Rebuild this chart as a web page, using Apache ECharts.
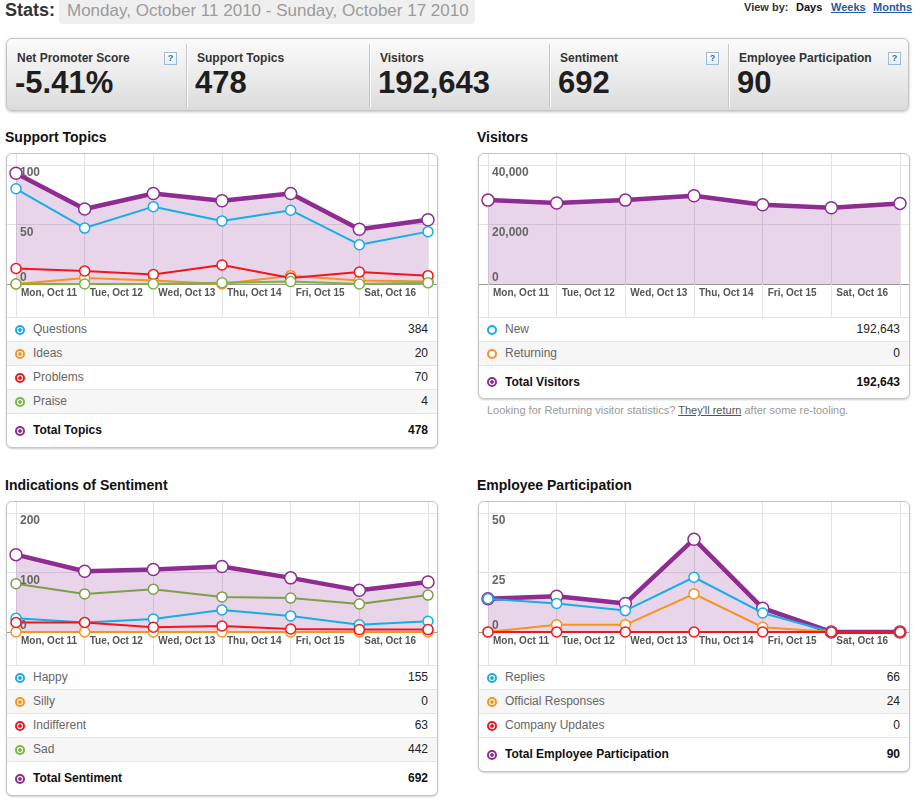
<!DOCTYPE html>
<html>
<head>
<meta charset="utf-8">
<title>Stats</title>
<script src="https://cdn.jsdelivr.net/npm/echarts@6.0.0/dist/echarts.min.js"></script>
<style>
body{margin:0;background:#fff;font-family:Arial,"Liberation Sans",Helvetica,sans-serif;width:922px;height:804px;position:relative;overflow:hidden}
#statsLabel{position:absolute;left:5px;top:-1px;font-size:18px;font-weight:bold;color:#333;line-height:22px}
#range{position:absolute;left:59px;top:-4px;width:416px;height:28px;background:#efefef;border-radius:4px;color:#9b9b9b;font-size:17px;line-height:30px;padding-left:8px;box-sizing:border-box;white-space:nowrap}
.vb{position:absolute;top:1px;font-size:11px;font-weight:bold;color:#333;line-height:13px}
.vb a{color:#1f5d9c;text-decoration:underline}
#statsBar{position:absolute;left:6px;top:38px;width:903px;height:73px;border:1px solid #c4c4c4;border-radius:6px;background:linear-gradient(#fbfbfb,#dcdcdc);box-shadow:0 1px 3px rgba(0,0,0,.25);box-sizing:border-box}
.cell{position:absolute;top:0;height:71px}
.cell .lbl{position:absolute;left:10px;top:12px;font-size:12px;font-weight:bold;color:#333;white-space:nowrap}
.cell .val{position:absolute;left:8px;top:27px;font-size:31px;font-weight:bold;color:#1e1e1e;line-height:34px;white-space:nowrap}
.divider{position:absolute;top:5px;height:63px;width:0;border-left:1px solid #c6c6c6;box-shadow:1px 0 0 #fff}
.help{position:absolute;top:13px;width:11px;height:11px;border:1px solid #9dbbd8;background:linear-gradient(#fff,#e6eef6);color:#2a6db0;font-size:9px;font-weight:bold;line-height:11px;text-align:center}
.title{position:absolute;font-size:14px;font-weight:bold;color:#111;line-height:16px}
.panel{position:absolute;width:432px;border:1px solid #c6c6c6;border-radius:6px;box-shadow:0 1px 2px rgba(0,0,0,.2);background:#fff;box-sizing:border-box;overflow:hidden}
.chart{width:430px;height:163px}
.row{position:relative;height:24px;border-top:1px solid #e3e3e3;box-sizing:border-box;font-size:12px;line-height:23px;color:#666}
.row.alt{background:#f6f6f6}
.row.total{font-weight:bold;color:#111}
.row .name{position:absolute;left:26px;top:0}
.row .num{position:absolute;right:9px;top:0;color:#222}
.row.total .num{color:#111}
.dot{position:absolute;left:8px;top:50%;margin-top:-5px;width:6px;height:6px;border-radius:50%;border:2px solid;background:#fff}
.note{position:absolute;left:487px;top:404px;font-size:11px;color:#9a9a9a;white-space:nowrap}
.note span{color:#555;text-decoration:underline}
</style>
</head>
<body>

<div id="statsLabel">Stats:</div>
<div id="range">Monday, October 11 2010 - Sunday, October 17 2010</div>
<div class="vb" style="left:744px">View by:</div>
<div class="vb" style="left:796px;color:#111">Days</div>
<div class="vb" style="left:831px"><a>Weeks</a></div>
<div class="vb" style="left:873px"><a>Months</a></div>

<div id="statsBar">
    <div class="cell" style="left:0;width:180px"><div class="lbl">Net Promoter Score</div><div class="val" id="npsVal"></div></div>
    <div class="help" style="left:157px">?</div>
    <div class="divider" style="left:179px"></div>
    <div class="cell" style="left:180px;width:183px"><div class="lbl">Support Topics</div><div class="val" id="topicsVal"></div></div>
    <div class="divider" style="left:362px"></div>
    <div class="cell" style="left:363px;width:180px"><div class="lbl">Visitors</div><div class="val" id="visitorsVal"></div></div>
    <div class="divider" style="left:542px"></div>
    <div class="cell" style="left:543px;width:179px"><div class="lbl">Sentiment</div><div class="val" id="sentVal"></div></div>
    <div class="help" style="left:699px">?</div>
    <div class="divider" style="left:721px"></div>
    <div class="cell" style="left:722px;width:179px"><div class="lbl">Employee Participation</div><div class="val" id="empVal"></div></div>
    <div class="help" style="left:881px">?</div>
</div>

<div class="title" style="left:5px;top:129px">Support Topics</div>
<div class="panel" style="left:6px;top:153px;height:295px">
    <div class="chart" id="topicsChart"></div>
    <div id="topicsRows"></div>
</div>

<div class="title" style="left:477px;top:129px">Visitors</div>
<div class="panel" style="left:478px;top:153px;height:246px">
    <div class="chart" id="visitorsChart"></div>
    <div id="visitorsRows"></div>
</div>
<div class="note">Looking for Returning visitor statistics? <span>They'll return</span> after some re-tooling.</div>

<div class="title" style="left:5px;top:477px">Indications of Sentiment</div>
<div class="panel" style="left:6px;top:501px;height:295px">
    <div class="chart" id="sentChart"></div>
    <div id="sentRows"></div>
</div>

<div class="title" style="left:477px;top:477px">Employee Participation</div>
<div class="panel" style="left:478px;top:501px;height:271px">
    <div class="chart" id="empChart"></div>
    <div id="empRows"></div>
</div>

<script>
var days = ['Mon, Oct 11', 'Tue, Oct 12', 'Wed, Oct 13', 'Thu, Oct 14', 'Fri, Oct 15', 'Sat, Oct 16', 'Sun, Oct 17'];

var netPromoter = '-5.41%';

var topicsQuestions = [80, 47, 65, 53, 62, 33, 44];
var topicsIdeas = [0, 5, 3, 0, 7, 3, 2];
var topicsProblems = [13, 11, 8, 16, 5, 10, 7];
var topicsPraise = [0, 0, 0, 1, 2, 0, 1];
var topicsTotal = [93, 63, 76, 70, 76, 46, 54];

var visitorsNew = [28200, 27200, 28200, 29650, 26650, 25650, 27093];
var visitorsReturning = [0, 0, 0, 0, 0, 0, 0];
var visitorsTotal = [28200, 27200, 28200, 29650, 26650, 25650, 27093];

var sentHappy = [23, 16, 22, 37, 27, 12, 18];
var sentSilly = [0, 0, 0, 0, 0, 0, 0];
var sentIndifferent = [16, 16, 8, 10, 5, 4, 4];
var sentSad = [81, 64, 72, 59, 57, 47, 62];
var sentTotal = [130, 102, 105, 110, 91, 70, 84];

var empReplies = [14, 12, 9, 23, 8, 0, 0];
var empOfficial = [0, 3, 3, 16, 2, 0, 0];
var empCompany = [0, 0, 0, 0, 0, 0, 0];
var empTotal = [14, 15, 12, 39, 10, 0, 0];

var cBlue = '#19ade6', cOrange = '#f7931e', cRed = '#f2161b', cGreen = '#7cb342', cOlive = '#7f9e4d', cPurple = '#8e2c91';
var fontFam = 'Arial, "Liberation Sans", Helvetica, sans-serif';

function sum(arr) {
    var s = 0;
    for (var i = 0; i < arr.length; i++) s += arr[i];
    return s;
}
function fmt(n) {
    return n.toLocaleString('en-US');
}

//legend table under each chart
function fillRows(id, rows) {
    var html = '';
    for (var i = 0; i < rows.length; i++) {
        var r = rows[i];
        var cls = 'row' + (r.total ? ' total' : '') + (i % 2 == 1 && !r.total ? ' alt' : '');
        var st = r.total ? 'height:' + r.total + 'px;line-height:' + (r.total - 1) + 'px' : '';
        var bg = r.hollow ? '#fff' : 'radial-gradient(circle,' + r.color + ' 0 1.5px,#fff 2px)';
        html += '<div class="' + cls + '" style="' + st + '">' +
            '<span class="dot" style="border-color:' + r.color + ';background:' + bg + '"></span>' +
            '<span class="name">' + r.name + '</span><span class="num">' + fmt(sum(r.data)) + '</span></div>';
    }
    document.getElementById(id).innerHTML = html;
}

function lineSeries(name, data, color, isTotal) {
    var s = {
        name: name,
        type: 'line',
        data: data,
        xAxisIndex: 0,
        yAxisIndex: 0,
        symbol: 'circle',
        symbolSize: isTotal ? 12 : 10,
        showAllSymbol: true,
        z: isTotal ? 2 : 3,
        lineStyle: {color: color, width: isTotal ? 4.5 : 2},
        itemStyle: {color: '#fff', borderColor: color, borderWidth: 1.5},
        emphasis: {disabled: true}
    };
    if (isTotal) {
        s.areaStyle = {color: 'rgba(142,44,145,0.2)', opacity: 1};
    }
    return s;
}

function chartOption(yMax, yStep, series) {
    var labelStyle = {
        inside: true, margin: 13, fontSize: 12, fontWeight: 'bold', color: '#666',
        formatter: function (v) { return fmt(v); }
    };
    var topLabels = echarts.util.merge({verticalAlign: 'top', padding: [2, 0, 0, 0], showMinLabel: false}, labelStyle);
    var zeroLabel = echarts.util.merge({verticalAlign: 'bottom', showMaxLabel: false, formatter: function (v) { return v === 0 ? '0' : ''; }}, labelStyle);
    return {
        animation: false,
        textStyle: {fontFamily: fontFam},
        grid: [
            {left: 9, right: 9, top: 0, bottom: 33},
            {left: 0, right: 0, top: 11, bottom: 33}
        ],
        xAxis: [
            {
                type: 'category', gridIndex: 0, data: days, boundaryGap: false,
                axisLine: {show: false},
                axisTick: {show: true, interval: 0, length: 33, lineStyle: {color: '#e3e3e3'}},
                splitLine: {show: true, interval: 0, lineStyle: {color: '#e3e3e3'}},
                axisLabel: {
                    interval: function (i) { return i < days.length - 1; },
                    align: 'left', verticalAlign: 'top', margin: 4, padding: [0, 0, 0, 5],
                    fontSize: 10, fontWeight: 'bold', color: '#555'
                }
            },
            {
                type: 'value', gridIndex: 1, min: 0, max: 1, position: 'bottom',
                axisLine: {show: true, onZero: false, lineStyle: {color: '#999'}},
                axisTick: {show: false}, axisLabel: {show: false}, splitLine: {show: false}
            }
        ],
        yAxis: [
            {type: 'value', gridIndex: 0, min: 0, max: yMax * 130 / 119, show: false, position: 'left'},
            {
                type: 'value', gridIndex: 1, min: 0, max: yMax, interval: yStep, position: 'left', offset: 0,
                axisLine: {show: false}, axisTick: {show: false}, axisLabel: {show: false},
                splitLine: {lineStyle: {color: '#e3e3e3'}}
            },
            {
                type: 'value', gridIndex: 1, min: 0, max: yMax, interval: yStep, z: 10, position: 'left', offset: 0,
                axisLine: {show: false}, axisTick: {show: false}, splitLine: {show: false},
                axisLabel: topLabels
            },
            {
                type: 'value', gridIndex: 1, min: 0, max: yMax, interval: yStep, z: 10, position: 'left', offset: 0,
                axisLine: {show: false}, axisTick: {show: false}, splitLine: {show: false},
                axisLabel: zeroLabel
            }
        ],
        series: series
    };
}

//stats bar
document.getElementById('npsVal').textContent = netPromoter;
document.getElementById('topicsVal').textContent = fmt(sum(topicsTotal));
document.getElementById('visitorsVal').textContent = fmt(sum(visitorsTotal));
document.getElementById('sentVal').textContent = fmt(sum(sentTotal));
document.getElementById('empVal').textContent = fmt(sum(empTotal));

//Support Topics
var topicsChart = echarts.init(document.getElementById('topicsChart'));
topicsChart.setOption(chartOption(100, 50, [
    lineSeries('Total Topics', topicsTotal, cPurple, true),
    lineSeries('Questions', topicsQuestions, cBlue),
    lineSeries('Ideas', topicsIdeas, cOrange),
    lineSeries('Problems', topicsProblems, cRed),
    lineSeries('Praise', topicsPraise, cGreen)
]));
fillRows('topicsRows', [
    {name: 'Questions', data: topicsQuestions, color: cBlue},
    {name: 'Ideas', data: topicsIdeas, color: cOrange},
    {name: 'Problems', data: topicsProblems, color: cRed},
    {name: 'Praise', data: topicsPraise, color: cGreen},
    {name: 'Total Topics', data: topicsTotal, color: cPurple, total: 34}
]);

//Visitors
var visitorsChart = echarts.init(document.getElementById('visitorsChart'));
visitorsChart.setOption(chartOption(40000, 20000, [
    lineSeries('Total Visitors', visitorsTotal, cPurple, true)
]));
fillRows('visitorsRows', [
    {name: 'New', data: visitorsNew, color: cBlue, hollow: true},
    {name: 'Returning', data: visitorsReturning, color: cOrange, hollow: true},
    {name: 'Total Visitors', data: visitorsTotal, color: cPurple, total: 33}
]);

//Sentiment
var sentChart = echarts.init(document.getElementById('sentChart'));
sentChart.setOption(chartOption(200, 100, [
    lineSeries('Total Sentiment', sentTotal, cPurple, true),
    lineSeries('Happy', sentHappy, cBlue),
    lineSeries('Silly', sentSilly, cOrange),
    lineSeries('Indifferent', sentIndifferent, cRed),
    lineSeries('Sad', sentSad, cOlive)
]));
fillRows('sentRows', [
    {name: 'Happy', data: sentHappy, color: cBlue},
    {name: 'Silly', data: sentSilly, color: cOrange},
    {name: 'Indifferent', data: sentIndifferent, color: cRed},
    {name: 'Sad', data: sentSad, color: cGreen},
    {name: 'Total Sentiment', data: sentTotal, color: cPurple, total: 34}
]);

//Employee Participation
var empChart = echarts.init(document.getElementById('empChart'));
empChart.setOption(chartOption(50, 25, [
    lineSeries('Total Employee Participation', empTotal, cPurple, true),
    lineSeries('Replies', empReplies, cBlue),
    lineSeries('Official Responses', empOfficial, cOrange),
    lineSeries('Company Updates', empCompany, cRed)
]));
fillRows('empRows', [
    {name: 'Replies', data: empReplies, color: cBlue},
    {name: 'Official Responses', data: empOfficial, color: cOrange},
    {name: 'Company Updates', data: empCompany, color: cRed},
    {name: 'Total Employee Participation', data: empTotal, color: cPurple, total: 34}
]);
</script>
</body>
</html>
